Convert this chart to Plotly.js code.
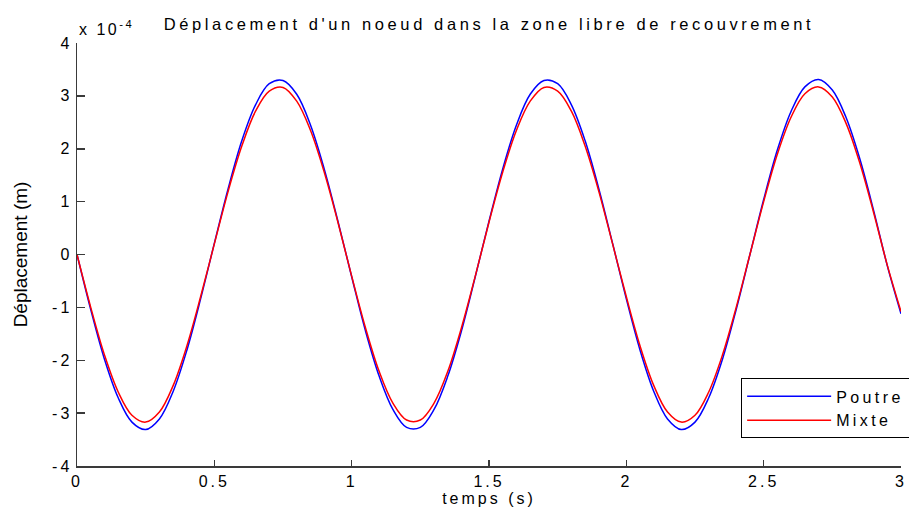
<!DOCTYPE html>
<html>
<head>
<meta charset="utf-8">
<script src="https://cdn.plot.ly/plotly-3.0.1.min.js"></script>
<style>
  html, body { margin: 0; padding: 0; background: #fff; }
  #chart { width: 909px; height: 509px; }
  .gtitle { letter-spacing: 3.6px; }
  .xtick text, .ytick text { letter-spacing: 3px; }
  .xtitle { letter-spacing: 3px; }
  .legendtext { letter-spacing: 3.4px; }
  .annotation-text { letter-spacing: 2.5px; }
</style>
</head>
<body>
<div id="chart"></div>
<script>
// time (s)
var temps = [0, 0.05, 0.1, 0.15, 0.2, 0.25, 0.3, 0.35, 0.4, 0.45,
             0.5, 0.55, 0.6, 0.65, 0.7, 0.75, 0.8, 0.85, 0.9, 0.95,
             1.0, 1.05, 1.1, 1.15, 1.2, 1.25, 1.3, 1.35, 1.4, 1.45,
             1.5, 1.55, 1.6, 1.65, 1.7, 1.75, 1.8, 1.85, 1.9, 1.95,
             2.0, 2.05, 2.1, 2.15, 2.2, 2.25, 2.3, 2.35, 2.4, 2.45,
             2.5, 2.55, 2.6, 2.65, 2.7, 2.75, 2.8, 2.85, 2.9, 2.95, 3.0];
// displacement, in units of 1e-4 m
var poutre = [0, -1.04, -1.98, -2.71, -3.17, -3.31, -3.11, -2.59, -1.81, -0.84,
              0.21, 1.24, 2.15, 2.83, 3.23, 3.29, 3.03, 2.45, 1.62, 0.63,
              -0.42, -1.44, -2.30, -2.93, -3.27, -3.27, -2.93, -2.30, -1.44, -0.42,
              0.63, 1.62, 2.45, 3.03, 3.29, 3.23, 2.83, 2.15, 1.24, 0.21,
              -0.84, -1.81, -2.59, -3.11, -3.31, -3.17, -2.71, -1.98, -1.04, 0,
              1.04, 1.98, 2.71, 3.17, 3.31, 3.11, 2.59, 1.81, 0.84, -0.21, -1.12];
var mixte = [0, -1.00, -1.90, -2.60, -3.04, -3.17, -2.98, -2.48, -1.73, -0.80,
             0.20, 1.19, 2.05, 2.71, 3.09, 3.16, 2.90, 2.35, 1.56, 0.61,
             -0.41, -1.38, -2.21, -2.81, -3.13, -3.13, -2.81, -2.21, -1.38, -0.41,
             0.61, 1.56, 2.35, 2.90, 3.16, 3.09, 2.71, 2.05, 1.19, 0.20,
             -0.80, -1.73, -2.48, -2.98, -3.17, -3.04, -2.60, -1.90, -1.00, 0,
             1.00, 1.90, 2.60, 3.04, 3.17, 2.98, 2.48, 1.73, 0.80, -0.20, -1.08];
var seriesNames = ['Poutre', 'Mixte'];
var xTickVals = [0, 0.5, 1, 1.5, 2, 2.5, 3];
var xTickText = ['0', '0.5', '1', '1.5', '2', '2.5', '3'];
var yTickVals = [-4, -3, -2, -1, 0, 1, 2, 3, 4];
var yTickText = ['-4', '-3', '-2', '-1', '0', '1', '2', '3', '4'];

var FONT = 'Liberation Sans, Arial, sans-serif';
var AXC = '#3a3a3a';

var traces = [
  { x: temps, y: poutre, name: seriesNames[0], type: 'scatter', mode: 'lines',
    line: { color: 'rgb(0,0,255)', width: 1.5, shape: 'spline', smoothing: 1 } },
  { x: temps, y: mixte, name: seriesNames[1], type: 'scatter', mode: 'lines',
    line: { color: 'rgb(255,0,0)', width: 1.5, shape: 'spline', smoothing: 1 } }
];

var layout = {
  width: 909, height: 509,
  margin: { l: 77, r: 8, t: 43, b: 43, pad: 0, autoexpand: false },
  paper_bgcolor: '#fff', plot_bgcolor: '#fff',
  font: { family: FONT, color: '#000', size: 16 },
  title: { text: "Déplacement d'un noeud dans la zone libre de recouvrement",
           font: { family: FONT, size: 16.5, color: '#000' },
           x: 0.5, xref: 'paper', xanchor: 'center',
           y: 1 - 24.5 / 509, yref: 'container', yanchor: 'middle' },
  xaxis: {
    range: [0, 3], tickvals: xTickVals, ticktext: xTickText,
    showgrid: false, zeroline: false, showline: true, linecolor: AXC, linewidth: 1.5,
    ticks: 'inside', ticklen: 6, tickwidth: 1.5, tickcolor: AXC, mirror: false,
    tickfont: { family: FONT, size: 16, color: '#000' },
    title: { text: 'temps (s)', font: { family: FONT, size: 16, color: '#000' }, standoff: 4 }
  },
  yaxis: {
    range: [-4, 4], tickvals: yTickVals, ticktext: yTickText,
    showgrid: false, zeroline: false, showline: true, linecolor: AXC, linewidth: 1.5,
    ticks: 'inside', ticklen: 8, tickwidth: 1.5, tickcolor: AXC, mirror: false,
    tickfont: { family: FONT, size: 16, color: '#000' },
    title: { text: 'Déplacement (m)', font: { family: 'Liberation Sans Narrow, Arial Narrow, sans-serif', size: 19, color: '#000' }, standoff: 19 }
  },
  showlegend: true,
  legend: {
    x: 0.806, xanchor: 'left', y: 0.207, yanchor: 'top',
    bgcolor: '#fff', bordercolor: '#000', borderwidth: 1,
    font: { family: FONT, size: 16, color: '#000' },
    itemwidth: 84, tracegroupgap: 0
  },
  annotations: [
    { text: 'x 10<sup>-4</sup>', xref: 'paper', yref: 'paper', x: 0, y: 1,
      xanchor: 'left', yanchor: 'bottom', yshift: 3, showarrow: false,
      font: { family: FONT, size: 16, color: '#000' } }
  ]
};

Plotly.newPlot('chart', traces, layout, { displayModeBar: false, staticPlot: true });
</script>
</body>
</html>
